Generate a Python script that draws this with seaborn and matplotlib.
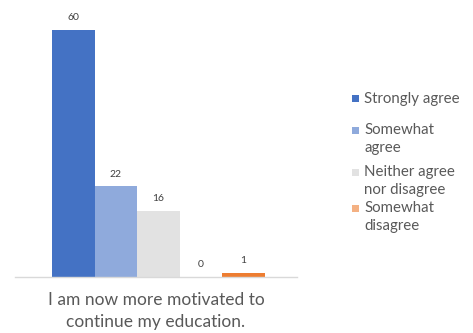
import matplotlib
matplotlib.use("Agg")
import matplotlib.pyplot as plt
from matplotlib.patches import Rectangle
import seaborn as sns
import pandas as pd

# Survey responses for one statement
question = "I am now more motivated to\ncontinue my education."
responses = ["Strongly agree", "Somewhat agree", "Neither agree nor disagree",
             "Somewhat disagree", "Strongly disagree"]
counts = [60, 22, 16, 0, 1]
colors = ["#4472C4", "#8FAADC", "#E2E2E2", "#F4B183", "#ED7D31"]

# Legend lists the first four responses, wrapped as in the original layout
legend_labels = ["Strongly agree", "Somewhat\nagree", "Neither agree\nnor disagree",
                 "Somewhat\ndisagree"]

df = pd.DataFrame({"question": [question] * len(responses),
                   "response": responses, "count": counts})

sns.set_theme(style="white")
plt.rcParams["font.family"] = ["Lato", "DejaVu Sans"]

W, H = 473, 333
fig = plt.figure(figsize=(W / 100, H / 100), dpi=100)
ax = fig.add_axes([15 / W, (H - 277) / H, 282 / W, 263.5 / H])

sns.barplot(data=df, x="question", y="count", hue="response",
            hue_order=responses, palette=colors, width=0.8, gap=0,
            saturation=1, legend=False, ax=ax, linewidth=0)

for cont in ax.containers:
    ax.bar_label(cont, labels=[f"{v:.0f}" for v in cont.datavalues],
                 padding=5.5, fontsize=7.5, color="#404040")

ax.set_ylim(0, 64)
ax.set_xlim(-0.539, 0.521)
ax.set_yticks([])
ax.set_xticks([])
ax.set_ylabel("")
ax.set_xlabel(question, fontsize=12.5, color="#595959", labelpad=11, linespacing=1.42)
for side in ["left", "right", "top"]:
    ax.spines[side].set_visible(False)
ax.spines["bottom"].set_color("#D9D9D9")
ax.spines["bottom"].set_linewidth(1.0)

# Legend, with each square aligned to the first line of its label
entry_y = [98, 130, 172, 208]
for lab, col, y in zip(legend_labels, colors, entry_y):
    fig.patches.append(Rectangle((352 / W, (H - y - 3.5) / H), 7 / W, 7 / H,
                                 transform=fig.transFigure, facecolor=col,
                                 edgecolor="none"))
    fig.text(364 / W, (H - y + 6.5) / H, lab, fontsize=10.8, color="#595959",
             va="top", ha="left", linespacing=1.3)

fig.savefig("out.png", dpi=100)
